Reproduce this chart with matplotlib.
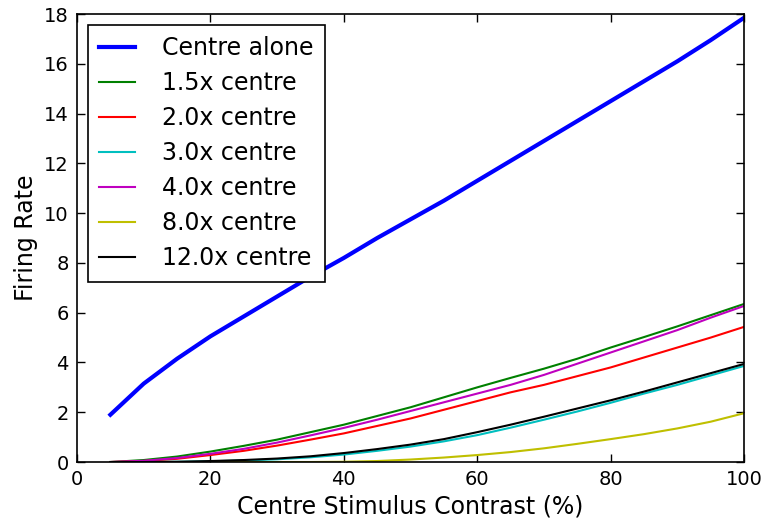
import matplotlib
matplotlib.use("Agg")
import matplotlib.pyplot as plt
import numpy as np

# centre stimulus contrast (%)
contrast = [5, 10, 15, 20, 25, 30, 35, 40, 45, 50,
            55, 60, 65, 70, 75, 80, 85, 90, 95, 100]

centre_alone = [1.9, 3.15, 4.15, 5.05, 5.85, 6.65, 7.45, 8.2, 9.0, 9.75,
                10.5, 11.3, 12.1, 12.9, 13.7, 14.5, 15.3, 16.1, 16.95, 17.85]
x1_5 = [0, 0.08, 0.22, 0.42, 0.65, 0.9, 1.2, 1.5, 1.85, 2.2,
        2.6, 3.0, 3.38, 3.75, 4.15, 4.6, 5.02, 5.45, 5.9, 6.35]
x2_0 = [0, 0.04, 0.13, 0.28, 0.45, 0.66, 0.9, 1.15, 1.45, 1.75,
        2.1, 2.45, 2.8, 3.1, 3.45, 3.8, 4.2, 4.6, 5.0, 5.43]
x3_0 = [0, 0, 0.01, 0.03, 0.06, 0.11, 0.19, 0.3, 0.45, 0.62,
        0.83, 1.08, 1.38, 1.7, 2.03, 2.38, 2.75, 3.1, 3.48, 3.86]
x4_0 = [0, 0.05, 0.16, 0.33, 0.53, 0.78, 1.07, 1.37, 1.7, 2.05,
        2.4, 2.75, 3.1, 3.5, 3.95, 4.4, 4.85, 5.3, 5.8, 6.27]
x8_0 = [0, 0, 0, 0, 0, 0, 0, 0.01, 0.04, 0.1,
        0.18, 0.28, 0.4, 0.55, 0.73, 0.92, 1.12, 1.35, 1.62, 1.96]
x12_0 = [0, 0, 0.01, 0.04, 0.08, 0.14, 0.23, 0.36, 0.52, 0.7,
         0.92, 1.2, 1.5, 1.82, 2.15, 2.48, 2.83, 3.2, 3.57, 3.94]

series = [
    ("Centre alone", centre_alone, "b", 3),
    ("1.5x centre", x1_5, "g", 1.5),
    ("2.0x centre", x2_0, "r", 1.5),
    ("3.0x centre", x3_0, "c", 1.5),
    ("4.0x centre", x4_0, "m", 1.5),
    ("8.0x centre", x8_0, "y", 1.5),
    ("12.0x centre", x12_0, "k", 1.5),
]
colours = {"b": "#0000ff", "g": "#008000", "r": "#ff0000", "c": "#00bfbf",
           "m": "#bf00bf", "y": "#bfbf00", "k": "#000000"}

fig = plt.figure(figsize=(7.68, 5.27), dpi=100)
ax = fig.add_axes([0.1003, 0.1233, 0.8685, 0.8501])

for label, vals, c, lw in series:
    ax.plot(contrast, vals, color=colours[c], lw=lw, label=label)

ax.set_xlim(0, 100)
ax.set_ylim(0, 18)
ax.set_xticks(np.arange(0, 101, 20))
ax.set_yticks(np.arange(0, 19, 2))
ax.tick_params(direction="in", top=True, right=True, length=6, width=1,
               labelsize=14, pad=6)
for s in ax.spines.values():
    s.set_linewidth(1.2)

ax.set_xlabel("Centre Stimulus Contrast (%)", fontsize=17)
ax.set_ylabel("Firing Rate", fontsize=17)

leg = ax.legend(loc="upper left", fontsize=17, fancybox=False,
                edgecolor="black", framealpha=1, handlelength=1.5,
                labelspacing=0.465, borderpad=0.5, handletextpad=1.15,
                borderaxespad=0.45)
leg.get_frame().set_linewidth(1.2)

fig.savefig("out.png", dpi=100)
